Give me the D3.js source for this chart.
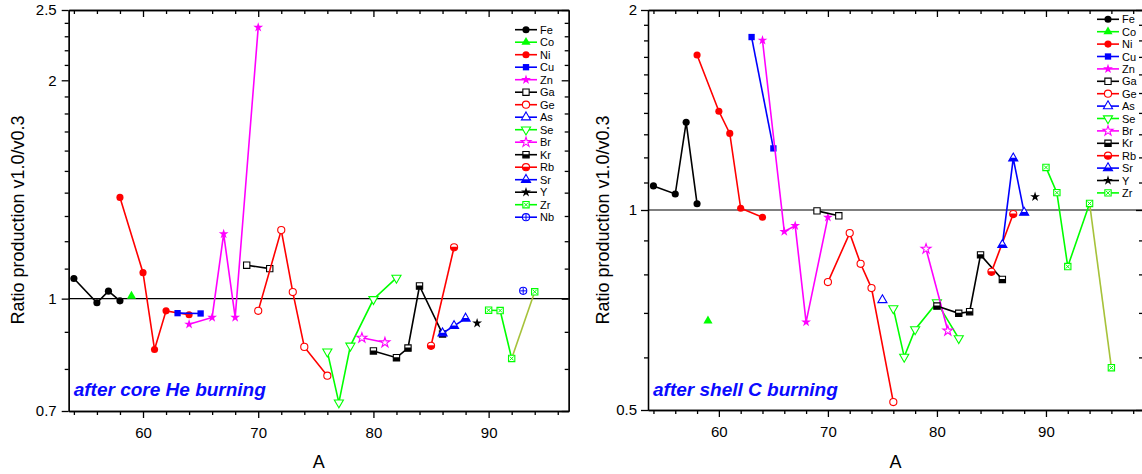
<!DOCTYPE html>
<html>
<head>
<meta charset="utf-8">
<script src="https://cdn.jsdelivr.net/npm/d3@7"></script>
<style>
body { margin: 0; background: #fff; overflow: hidden; }
text { font-family: Arial, "Liberation Sans", sans-serif; }
</style>
</head>
<body>
<div id="main"></div>
<script>
// ratio of yields v1.0 / v0.3
const heBurning = [
    {el: "Fe", A: [54, 56, 57, 58], r: [1.066, 0.987, 1.024, 0.993]},
    {el: "Co", A: [59], r: [1.008]},
    {el: "Ni", A: [58, 60, 61, 62, 64], r: [1.379, 1.086, 0.851, 0.962, 0.950]},
    {el: "Cu", A: [63, 65], r: [0.955, 0.954]},
    {el: "Zn", A: [64, 66, 67, 68, 70], r: [0.922, 0.942, 1.228, 0.942, 2.366]},
    {el: "Ga", A: [69, 71], r: [1.112, 1.100]},
    {el: "Ge", A: [70, 72, 73, 74, 76], r: [0.962, 1.243, 1.021, 0.858, 0.783]},
    {el: "Se", A: [76, 77, 78, 80, 82], r: [0.845, 0.719, 0.861, 0.998, 1.068]},
    {el: "Br", A: [79, 81], r: [0.883, 0.870]},
    {el: "Kr", A: [80, 82, 83, 84, 86], r: [0.847, 0.829, 0.855, 1.041, 0.894]},
    {el: "Rb", A: [85, 87], r: [0.861, 1.177]},
    {el: "Sr", A: [86, 87, 88], r: [0.896, 0.917, 0.939]},
    {el: "Y",  A: [89], r: [0.925]},
    {el: "Zr", A: [90, 91, 92, 94], r: [0.964, 0.963, 0.827, 1.022]},
    {el: "Nb", A: [93], r: [1.025]}
];

const cBurning = [
    {el: "Fe", A: [54, 56, 57, 58], r: [1.087, 1.057, 1.355, 1.022]},
    {el: "Co", A: [59], r: [0.681]},
    {el: "Ni", A: [58, 60, 61, 62, 64], r: [1.711, 1.408, 1.304, 1.006, 0.975]},
    {el: "Cu", A: [63, 65], r: [1.821, 1.238]},
    {el: "Zn", A: [64, 66, 67, 68, 70], r: [1.801, 0.928, 0.947, 0.678, 0.975]},
    {el: "Ga", A: [69, 71], r: [0.997, 0.980]},
    {el: "Ge", A: [70, 72, 73, 74, 76], r: [0.779, 0.923, 0.830, 0.763, 0.514]},
    {el: "As", A: [75], r: [0.732]},
    {el: "Se", A: [76, 77, 78, 80, 82], r: [0.711, 0.601, 0.661, 0.726, 0.641]},
    {el: "Br", A: [79, 81], r: [0.874, 0.658]},
    {el: "Kr", A: [80, 82, 83, 84, 86], r: [0.717, 0.699, 0.703, 0.856, 0.786]},
    {el: "Rb", A: [85, 87], r: [0.807, 0.986]},
    {el: "Sr", A: [86, 87, 88], r: [0.886, 1.196, 0.991]},
    {el: "Y",  A: [89], r: [1.047]},
    {el: "Zr", A: [90, 91, 92, 94, 96], r: [1.159, 1.062, 0.822, 1.023, 0.579]}
];

const legendHe = ["Fe", "Co", "Ni", "Cu", "Zn", "Ga", "Ge", "As", "Se", "Br", "Kr", "Rb", "Sr", "Y", "Zr", "Nb"];
const legendC = ["Fe", "Co", "Ni", "Cu", "Zn", "Ga", "Ge", "As", "Se", "Br", "Kr", "Rb", "Sr", "Y", "Zr"];

const X_TICKS = [60, 70, 80, 90];
const X_MINOR = d3.range(54, 100, 2);
const HE_Y_TICKS = [0.7, 1, 2, 2.5];
const C_Y_TICKS = [0.5, 1, 2];

// marker styles per element
const STYLE = {
    Fe: {c: "#000000", shape: "circle", fill: "full"},
    Co: {c: "#00ff00", shape: "tri", fill: "full"},
    Ni: {c: "#ff0000", shape: "circle", fill: "full"},
    Cu: {c: "#0000ff", shape: "square", fill: "full"},
    Zn: {c: "#ff00ff", shape: "star", fill: "full"},
    Ga: {c: "#000000", shape: "square", fill: "open"},
    Ge: {c: "#ff0000", shape: "circle", fill: "open"},
    As: {c: "#0000ff", shape: "tri", fill: "open"},
    Se: {c: "#00ff00", shape: "triDown", fill: "open"},
    Br: {c: "#ff00ff", shape: "star", fill: "open"},
    Kr: {c: "#000000", shape: "square", fill: "half"},
    Rb: {c: "#ff0000", shape: "circle", fill: "half"},
    Sr: {c: "#0000ff", shape: "tri", fill: "half"},
    Y:  {c: "#000000", shape: "star", fill: "full"},
    Zr: {c: "#00ff00", shape: "square", fill: "cross", tail: "#a6c23a"},
    Nb: {c: "#0000ff", shape: "circle", fill: "plus"}
};

const SHAPES = {
    circle: d3.symbol(d3.symbolCircle, 40)(),
    square: d3.symbol(d3.symbolSquare, 40)(),
    tri: d3.symbol(d3.symbolTriangle, 36)(),
    triDown: d3.symbol(d3.symbolTriangle, 36)(),
    star: d3.symbol(d3.symbolStar, 30)()
};

const FONT = 'Arial, "Liberation Sans", sans-serif';

const svg = d3.select("#main").append("svg")
    .attr("width", 1142)
    .attr("height", 474)
    .style("overflow", "hidden");

svg.append("defs").append("clipPath")
    .attr("id", "lowHalf")
    .append("rect")
    .attr("x", -10).attr("y", -0.5)
    .attr("width", 20).attr("height", 10);

function drawMarker(g, el, x, y) {
    let s = STYLE[el];
    let m = g.append("g").attr("transform", `translate(${x},${y})` + (s.shape == "triDown" ? " rotate(180)" : ""));
    let d = SHAPES[s.shape];
    if (s.fill == "full") {
        m.append("path").attr("d", d).attr("fill", s.c);
        return;
    }
    m.append("path").attr("d", d).attr("fill", "#fff").attr("stroke", s.c).attr("stroke-width", 1.1);
    if (s.fill == "half") {
        m.append("path").attr("d", d).attr("fill", s.c).attr("clip-path", "url(#lowHalf)");
    }
    else if (s.fill == "cross") {
        m.append("path").attr("d", "M-2,-2L2,2M-2,2L2,-2").attr("stroke", s.c).attr("stroke-width", 1);
    }
    else if (s.fill == "plus") {
        m.append("path").attr("d", "M-3,0H3M0,-3V3").attr("stroke", s.c).attr("stroke-width", 1);
    }
}

function drawPanel(p) {
    let g = svg.append("g");
    let x = p.x, y = p.y;
    let [x0, x1] = x.range();
    let [y0, y1] = y.range();

    // axes
    let styleAxis = (a) => {
        a.attr("font-size", 15).attr("font-family", FONT);
        a.selectAll("path, line").attr("stroke", "#000").attr("stroke-width", 1.3);
    };
    let minorY = d3.range(Math.round(y.domain()[0] * 10), Math.round(y.domain()[1] * 10) + 1)
        .map(d => d / 10).filter(v => !p.yTicks.includes(v));
    let minorX = X_MINOR.filter(v => !X_TICKS.includes(v) && v < x.domain()[1]);

    g.append("g").attr("transform", `translate(0,${y0})`)
        .call(d3.axisBottom(x).tickValues(X_TICKS).tickSize(7).tickSizeOuter(0).tickPadding(9))
        .call(styleAxis);
    g.append("g").attr("transform", `translate(0,${y0})`)
        .call(d3.axisBottom(x).tickValues(minorX).tickSize(4).tickSizeOuter(0).tickFormat(""))
        .call(styleAxis);
    g.append("g").attr("transform", `translate(0,${y1})`)
        .call(d3.axisTop(x).tickValues(X_TICKS).tickSize(-7).tickSizeOuter(0).tickFormat(""))
        .call(styleAxis);
    g.append("g").attr("transform", `translate(0,${y1})`)
        .call(d3.axisTop(x).tickValues(minorX).tickSize(-4).tickSizeOuter(0).tickFormat(""))
        .call(styleAxis);
    g.append("g").attr("transform", `translate(${x0},0)`)
        .call(d3.axisLeft(y).tickValues(p.yTicks).tickSize(7).tickSizeOuter(0).tickPadding(p.yPad).tickFormat(d => String(d)))
        .call(styleAxis);
    g.append("g").attr("transform", `translate(${x0},0)`)
        .call(d3.axisLeft(y).tickValues(minorY).tickSize(4).tickSizeOuter(0).tickFormat(""))
        .call(styleAxis);
    g.append("g").attr("transform", `translate(${x1},0)`)
        .call(d3.axisRight(y).tickValues(p.yTicks).tickSize(-7).tickSizeOuter(0).tickFormat(""))
        .call(styleAxis);
    g.append("g").attr("transform", `translate(${x1},0)`)
        .call(d3.axisRight(y).tickValues(minorY).tickSize(-4).tickSizeOuter(0).tickFormat(""))
        .call(styleAxis);

    // reference line at ratio 1
    g.append("line")
        .attr("x1", x0).attr("x2", x1)
        .attr("y1", y(1)).attr("y2", y(1))
        .attr("stroke", "#000").attr("stroke-width", 1.2);

    // axis titles
    g.append("text")
        .attr("x", (x0 + x1) / 2).attr("y", 468)
        .attr("text-anchor", "middle").attr("font-size", 18)
        .text("A");
    g.append("text")
        .attr("transform", `translate(${p.yTitleX},220) rotate(-90)`)
        .attr("text-anchor", "middle").attr("font-size", 18)
        .text("Ratio production v1.0/v0.3");

    g.append("text")
        .attr("x", x0 + 5).attr("y", 396)
        .attr("font-size", 19).attr("font-weight", "bold").attr("font-style", "italic")
        .attr("fill", "#0a0aff")
        .text(p.title);

    // series
    let line = d3.line().x(d => x(d[0])).y(d => y(d[1]));
    p.series.forEach(s => {
        let st = STYLE[s.el];
        let pts = s.A.map((a, i) => [a, s.r[i]]);
        if (pts.length > 1) {
            let main = st.tail ? pts.slice(0, -1) : pts;
            if (main.length > 1) {
                g.append("path").attr("d", line(main)).attr("fill", "none")
                    .attr("stroke", st.c).attr("stroke-width", 1.6);
            }
            if (st.tail) {
                g.append("path").attr("d", line(pts.slice(-2))).attr("fill", "none")
                    .attr("stroke", st.tail).attr("stroke-width", 1.6);
            }
        }
        pts.forEach(d => drawMarker(g, s.el, x(d[0]), y(d[1])));
    });

    // legend
    let lg = g.append("g");
    p.legend.forEach((el, i) => {
        let ly = p.lgY + i * p.lgStep;
        lg.append("line")
            .attr("x1", p.lgX).attr("x2", p.lgX + 22)
            .attr("y1", ly).attr("y2", ly)
            .attr("stroke", STYLE[el].c).attr("stroke-width", 1.6);
        drawMarker(lg, el, p.lgX + 11, ly);
        lg.append("text")
            .attr("x", p.lgX + 25).attr("y", ly + 4)
            .attr("font-size", 11)
            .text(el);
    });
}

drawPanel({
    x: d3.scaleLinear().domain([53.55, 96.95]).range([68.7, 568.7]),
    y: d3.scaleLog().domain([0.7, 2.5]).range([411, 10]),
    yTicks: HE_Y_TICKS,
    yPad: 5,
    yTitleX: 24,
    title: "after core He burning",
    series: heBurning,
    legend: legendHe,
    lgX: 515, lgY: 29.7, lgStep: 12.5
});

drawPanel({
    x: d3.scaleLinear().domain([53.5, 98.9]).range([648, 1143]),
    y: d3.scaleLog().domain([0.5, 2]).range([410, 10]),
    yTicks: C_Y_TICKS,
    yPad: 4,
    yTitleX: 609,
    title: "after shell C burning",
    series: cBurning,
    legend: legendC,
    lgX: 1097, lgY: 19.3, lgStep: 12.4
});
</script>
</body>
</html>
